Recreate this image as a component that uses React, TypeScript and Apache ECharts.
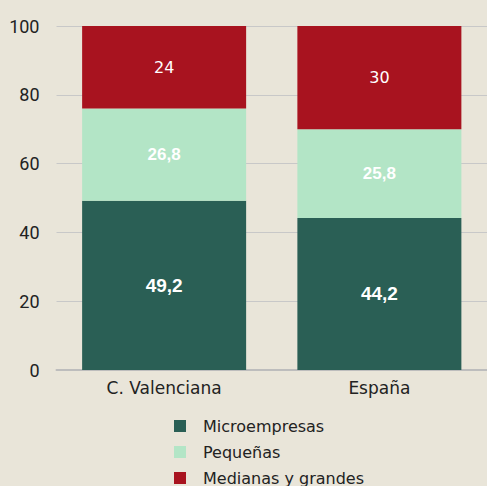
import React, { useEffect, useRef } from "react";
import * as echarts from "echarts";

const categories = ["C. Valenciana", "España"];
const micro = [49.2, 44.2];
const pequenas = [26.8, 25.8];
const medianas = [24, 30];
const seriesNames = ["Microempresas", "Pequeñas", "Medianas y grandes"];
const colors = ["#2a5f55", "#b3e5c6", "#a8131f"];

const fmt = (p: any) => String(p.value).replace(".", ",");

export default function App() {
  const ref = useRef<HTMLDivElement>(null);
  useEffect(() => {
    const chart = echarts.init(ref.current!, null, { renderer: "svg" });
    const mk = (name: string, data: number[], color: string, size: number, weight: any, family: string) => ({
      name,
      type: "bar",
      stack: "t",
      data,
      barWidth: 164,
      itemStyle: { color },
      label: {
        show: true,
        position: "inside",
        formatter: fmt,
        color: "#ffffff",
        fontSize: size,
        fontWeight: weight,
        fontFamily: family,
      },
    });
    const legendTops = [418, 444, 470];
    const legends = seriesNames.map((n, i) => ({
      orient: "vertical",
      left: 174,
      top: legendTops[i],
      padding: 0,
      itemWidth: 12,
      itemHeight: 12,
      icon: "rect",
      formatter: (s: string) => "{s|}" + s,
      textStyle: {
        fontSize: 16,
        color: "#222",
        fontFamily: "DejaVu Sans, sans-serif",
        rich: { s: { width: 12 } },
      },
      data: [n],
    }));
    chart.setOption({
      animation: false,
      backgroundColor: "#e9e5d9",
      grid: { left: 56.5, width: 434, top: 26, bottom: 116, containLabel: false },
      legend: legends,
      xAxis: {
        type: "category",
        data: categories,
        axisLine: { lineStyle: { color: "#bdbdbd", width: 2 } },
        axisTick: { show: false },
        axisLabel: { fontSize: 17, color: "#222", margin: 9, fontFamily: "DejaVu Sans, sans-serif" },
      },
      yAxis: {
        type: "value",
        min: 0,
        max: 100,
        interval: 20,
        axisLine: { show: false },
        axisTick: { show: false },
        splitLine: { lineStyle: { color: "#c8c8c8", width: 1 } },
        axisLabel: { fontSize: 18, color: "#222", margin: 17, fontFamily: "Roboto, sans-serif" },
      },
      series: [
        mk(seriesNames[0], micro, colors[0], 19, "bold", "Liberation Sans, Arial, sans-serif"),
        mk(seriesNames[1], pequenas, colors[1], 17, "bold", "Liberation Sans, Arial, sans-serif"),
        mk(seriesNames[2], medianas, colors[2], 16, "normal", "DejaVu Sans, sans-serif"),
      ],
    });
    return () => chart.dispose();
  }, []);
  return <div ref={ref} style={{ width: 487, height: 486, position: "absolute", left: 0, top: 0 }} />;
}
